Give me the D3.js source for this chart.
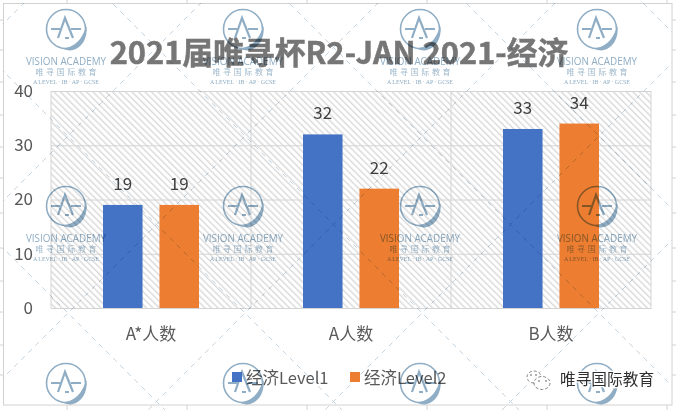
<!DOCTYPE html>
<html>
<head>
<meta charset="utf-8">
<title>2021届唯寻杯R2-JAN 2021-经济</title>
<script src="https://d3js.org/d3.v7.min.js"></script>
<style>
    html, body { margin: 0; padding: 0; background: #fff; overflow: hidden; }
    svg { display: block; }
    text { font-family: "Noto Sans CJK SC", "Noto Sans", sans-serif; }
</style>
</head>
<body>
<div id="home"></div>
<script>
const categories = ['A*人数', 'A人数', 'B人数'];
const seriesNames = ['经济Level1', '经济Level2'];
const level1 = [19, 32, 33];
const level2 = [19, 22, 34];
const yTicks = [0, 10, 20, 30, 40];
const titleText = '2021届唯寻杯R2-JAN 2021-经济';
const colors = ['#4472c4', '#ed7d31'];

// watermark + sheet furniture
const logoXs = [66, 243, 420, 597];
const logoYs = [29, 206, 383];
const sheetColTicks = [67, 187, 307, 427, 547, 667];
const sheetRowTicks = [20, 50, 82, 115, 147, 178, 213, 248, 281, 312, 345, 375];

const w = 676, h = 410;
const plot = { left: 51, right: 651, top: 91, bottom: 308 };

const svg = d3.select('#home').append('svg').attr('width', w).attr('height', h);
const defs = svg.append('defs');

const hatch = defs.append('pattern')
    .attr('id', 'hatch')
    .attr('patternUnits', 'userSpaceOnUse')
    .attr('width', 4.6)
    .attr('height', 4.6)
    .attr('patternTransform', 'rotate(-45)');
hatch.append('rect').attr('width', 4.6).attr('height', 4.6).attr('fill', '#fff');
hatch.append('rect').attr('width', 1.4).attr('height', 4.6).attr('fill', '#dadada');

defs.append('clipPath').attr('id', 'sheet')
    .append('rect').attr('x', 3).attr('y', 3).attr('width', 669).attr('height', 407);

// sheet frame and the little cell ticks sticking out of it
const frame = svg.append('g').attr('stroke', '#d2d2d2').attr('stroke-width', 1).attr('fill', 'none');
sheetColTicks.forEach(x => {
    frame.append('line').attr('x1', x).attr('x2', x).attr('y1', 0).attr('y2', 3);
    frame.append('line').attr('x1', x).attr('x2', x).attr('y1', 405).attr('y2', h);
});
sheetRowTicks.forEach(y => {
    frame.append('line').attr('x1', 0).attr('x2', 3).attr('y1', y).attr('y2', y);
    frame.append('line').attr('x1', 672).attr('x2', w).attr('y1', y).attr('y2', y);
});
frame.append('rect').attr('x', 3.5).attr('y', 3.5).attr('width', 668.5).attr('height', 401.5);

// scales
const x0 = d3.scaleBand().domain(categories).range([plot.left, plot.right]);
const x1 = d3.scaleBand().domain(seriesNames).range([52, 148]).paddingInner(0.3).paddingOuter(0);
const y = d3.scaleLinear().domain([0, 40]).range([plot.bottom, plot.top]);

// plot background
svg.append('rect')
    .attr('x', plot.left).attr('y', plot.top)
    .attr('width', plot.right - plot.left).attr('height', plot.bottom - plot.top)
    .attr('fill', 'url(#hatch)');

// grid
const yGrid = d3.axisLeft(y).tickValues(yTicks).tickSize(-(plot.right - plot.left)).tickFormat('');
svg.append('g').attr('transform', `translate(${plot.left},0)`).call(yGrid)
    .call(g => g.select('.domain').remove())
    .call(g => g.selectAll('line').attr('stroke', '#d4d4d4'));

svg.append('g').selectAll('line')
    .data(x0.domain().map(d => x0(d)).concat(plot.right))
    .enter().append('line')
    .attr('x1', d => d).attr('x2', d => d)
    .attr('y1', plot.top).attr('y2', plot.bottom)
    .attr('stroke', '#d4d4d4');

// bars
const rows = categories.map((c, i) => ({ c: c, vals: [level1[i], level2[i]] }));
const group = svg.selectAll('.grp').data(rows).enter().append('g')
    .attr('class', 'grp')
    .attr('transform', d => `translate(${x0(d.c)},0)`);

group.selectAll('rect')
    .data(d => d.vals.map((v, i) => ({ name: seriesNames[i], v: v, i: i })))
    .enter().append('rect')
    .attr('x', d => x1(d.name))
    .attr('y', d => y(d.v))
    .attr('width', x1.bandwidth())
    .attr('height', d => y(0) - y(d.v))
    .attr('fill', d => colors[d.i]);

group.selectAll('text')
    .data(d => d.vals.map((v, i) => ({ name: seriesNames[i], v: v })))
    .enter().append('text')
    .attr('x', d => x1(d.name) + x1.bandwidth() / 2)
    .attr('y', d => y(d.v) - 15)
    .attr('text-anchor', 'middle')
    .attr('font-size', 17)
    .attr('fill', '#404040')
    .text(d => d.v);

// axes
const yAxis = d3.axisLeft(y).tickValues(yTicks).tickSize(0).tickPadding(18);
svg.append('g').attr('transform', `translate(${plot.left},0)`).call(yAxis)
    .call(g => g.select('.domain').remove())
    .call(g => g.selectAll('text')
        .attr('font-size', 17).attr('fill', '#595959')
        .style('font-family', '"Noto Sans CJK SC", sans-serif'));

const xAxis = d3.axisBottom(x0).tickSize(0).tickPadding(20);
svg.append('g').attr('transform', `translate(0,${plot.bottom})`).call(xAxis)
    .call(g => g.select('.domain').attr('stroke', '#d4d4d4'))
    .call(g => g.selectAll('text')
        .attr('font-size', 17).attr('fill', '#595959')
        .style('font-family', '"Noto Sans CJK SC", sans-serif'));

// title
svg.append('text')
    .attr('x', 339).attr('y', 64)
    .attr('text-anchor', 'middle')
    .attr('font-size', 30.8)
    .attr('font-weight', 700)
    .attr('fill', '#767676')
    .attr('stroke', '#767676').attr('stroke-width', 0.5)
    .text(titleText);

// legend text goes under the watermark
const legendXs = [232, 350];
const legend = svg.append('g');
seriesNames.forEach((name, i) => {
    legend.append('text')
        .attr('x', legendXs[i] + 14).attr('y', 384)
        .attr('font-size', 16.5).attr('fill', '#595959')
        .text(name);
});

// watermark, multiplied over everything above
const mark = svg.append('g')
    .style('mix-blend-mode', 'multiply')
    .attr('clip-path', 'url(#sheet)');

const diagUp = d3.range(-1, 6).map(k => 204 + 177 * k);
const diagDown = d3.range(-3, 5).map(k => -68 + 177 * k);
const dash = mark.append('g')
    .attr('stroke', '#c3d3e0').attr('stroke-width', 1).attr('stroke-dasharray', '5 5').attr('fill', 'none');
diagUp.forEach(c => dash.append('line').attr('x1', 0).attr('y1', c).attr('x2', w).attr('y2', c - w));
diagDown.forEach(c => dash.append('line').attr('x1', 0).attr('y1', -c).attr('x2', w).attr('y2', w - c));

const logoColor = '#8fadc4';
logoYs.forEach(ly => logoXs.forEach(lx => {
    const g = mark.append('g').attr('transform', `translate(${lx},${ly})`);
    g.append('circle').attr('r', 19.5).attr('fill', 'none').attr('stroke', logoColor).attr('stroke-width', 1.6);
    // swoosh on the lower right
    g.append('path')
        .attr('d', 'M20.5,-3 C22,10 15,19 7,21 C4,22 0,21 -6,19 C3,20 13,15 18,3 Z')
        .attr('fill', logoColor);
    // the A and its dashes, left open at the foot
    g.append('path')
        .attr('d', 'M-8,9 L-1,-11 L7,9')
        .attr('fill', 'none').attr('stroke', logoColor).attr('stroke-width', 2.2);
    g.append('path')
        .attr('d', 'M-15,0 L-6,0 M5,0 L15,0 M-1,9 L3,9')
        .attr('fill', 'none').attr('stroke', logoColor).attr('stroke-width', 1.8);
    g.append('text').attr('y', 36).attr('text-anchor', 'middle')
        .attr('font-size', 11.5).attr('fill', logoColor)
        .attr('textLength', 80).attr('lengthAdjust', 'spacingAndGlyphs')
        .style('font-family', '"Open Sans", sans-serif')
        .text('VISION ACADEMY');
    g.append('text').attr('y', 46).attr('text-anchor', 'middle')
        .attr('font-size', 8).attr('fill', logoColor).attr('opacity', 0.85)
        .attr('textLength', 61)
        .text('唯寻国际教育');
    g.append('text').attr('y', 55).attr('text-anchor', 'middle')
        .attr('font-size', 6).attr('fill', logoColor)
        .attr('textLength', 66)
        .style('font-family', '"Liberation Serif", serif')
        .text('A LEVEL · IB · AP · GCSE');
}));

// legend swatches sit on top
seriesNames.forEach((name, i) => {
    svg.append('rect')
        .attr('x', legendXs[i]).attr('y', 372)
        .attr('width', 10).attr('height', 10)
        .attr('fill', colors[i]);
});

// wechat stamp
const wx = svg.append('g').attr('transform', 'translate(526,370)')
    .attr('fill', '#fff').attr('stroke', '#666').attr('stroke-width', 0.8);
wx.append('ellipse').attr('cx', 8).attr('cy', 7).attr('rx', 7).attr('ry', 6).attr('stroke-dasharray', '3 2');
wx.append('ellipse').attr('cx', 16).attr('cy', 13).attr('rx', 8).attr('ry', 6.5).attr('stroke-dasharray', '3 2');
wx.selectAll('.eye').data([5, 10, 13, 20]).enter().append('circle')
    .attr('class', 'eye')
    .attr('cx', d => d).attr('cy', (d, i) => i < 2 ? 5 : 11)
    .attr('r', 0.8).attr('fill', '#555').attr('stroke', 'none');

svg.append('text')
    .attr('x', 560).attr('y', 385)
    .attr('font-size', 15.7)
    .attr('fill', '#2f2f2f')
    .attr('stroke', '#fff').attr('stroke-width', 2.5).attr('paint-order', 'stroke')
    .text('唯寻国际教育');
</script>
</body>
</html>
